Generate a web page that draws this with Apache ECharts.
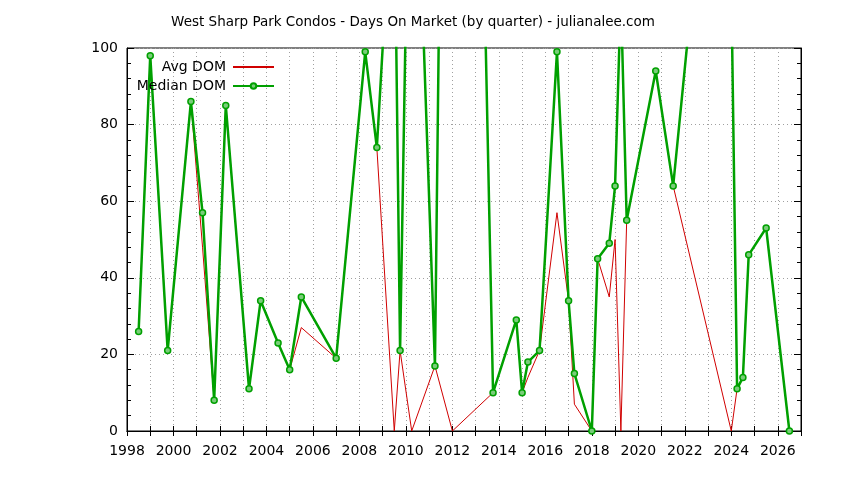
<html lang="en">
<head>
    <meta charset="UTF-8">
    <title>West Sharp Park Condos - DOM</title>
    <style>
        html, body { margin: 0; padding: 0; background: #fff; }
    </style>
</head>
<body>
    <div id="container" style="width:844px;height:480px"></div>

    <script src="https://cdn.jsdelivr.net/npm/echarts@6/dist/echarts.min.js"></script>
    <script>
        // quarters (decimal year) and days on market
        var medianQuarters = [1998.5, 1999.0, 1999.75, 2000.75, 2001.25, 2001.75, 2002.25, 2003.25, 2003.75, 2004.5,
            2005.0, 2005.5, 2007.0, 2008.25, 2008.75, 2009.25, 2009.5, 2009.75, 2010.0, 2010.5,
            2011.25, 2011.5, 2013.25, 2013.75, 2014.75, 2015.0, 2015.25, 2015.75, 2016.5, 2017.0,
            2017.25, 2018.0, 2018.25, 2018.75, 2019.0, 2019.25, 2019.5, 2020.75, 2021.5, 2022.25,
            2024.0, 2024.25, 2024.5, 2024.75, 2025.5, 2026.5];
        var medianDom = [26, 98, 21, 86, 57, 8, 85, 11, 34, 23,
            16, 35, 19, 99, 74, 126, 142, 21, 110, 148,
            17, 148, 154, 10, 29, 10, 18, 21, 99, 34,
            15, 0, 45, 49, 64, 114, 55, 94, 64, 110,
            117, 11, 14, 46, 53, 0];

        var avgQuarters = [1998.5, 1999.0, 1999.75, 2000.75, 2001.25, 2001.75, 2002.25, 2003.25, 2003.75, 2004.5,
            2005.0, 2005.5, 2007.0, 2008.25, 2008.75, 2009.5, 2009.75, 2010.25, 2011.25, 2012.0,
            2013.75, 2014.75, 2015.0, 2015.25, 2015.75, 2016.5, 2017.0, 2017.25, 2018.0, 2018.25,
            2018.75, 2019.0, 2019.25, 2019.5, 2020.75, 2021.5, 2024.0, 2024.25, 2024.5, 2024.75,
            2025.5, 2026.5];
        var avgDom = [26, 98, 21, 86, 48, 8, 85, 11, 34, 23,
            16, 27, 19, 99, 74, 0, 21, 0, 17, 0,
            10, 29, 10, 14, 21, 57, 34, 7, 0, 45,
            35, 50, 0, 55, 94, 64, 0, 11, 14, 46,
            53, 0];

        var yTicks = [0, 20, 40, 60, 80, 100];

        function pairs(xs, ys) {
            return xs.map(function (x, i) { return [x, ys[i]]; });
        }

        var font = 'DejaVu Sans';
        var myChart = echarts.init(document.getElementById('container'));

        function xAxisDef(pos, labels) {
            return {
                type: 'value', position: pos, min: 1998, max: 2027, interval: 1,
                axisLine: { show: true, lineStyle: { color: '#000', width: 1 } },
                axisTick: { show: true, inside: true, length: 5, lineStyle: { color: '#000' } },
                axisLabel: {
                    show: labels, color: '#000', fontFamily: font, fontSize: 14, margin: 13,
                    formatter: function (v) { return v % 2 === 0 ? String(v) : ''; }
                },
                splitLine: { show: labels, lineStyle: { color: '#a0a0a0', type: [1, 3], width: 1 } }
            };
        }
        function yAxisDef(pos, labels) {
            return {
                type: 'value', position: pos, min: yTicks[0], max: yTicks[yTicks.length - 1], interval: 20,
                axisLine: { show: true, lineStyle: { color: '#000', width: 1 } },
                axisTick: { show: true, inside: true, length: 7, lineStyle: { color: '#000' } },
                minorTick: { show: true, splitNumber: 5, length: 4, lineStyle: { color: '#000' } },
                axisLabel: { show: labels, color: '#000', fontFamily: font, fontSize: 14, margin: 9 },
                splitLine: { show: labels, lineStyle: { color: '#a0a0a0', type: [1, 3], width: 1 } }
            };
        }

        var legendText = { fontFamily: font, fontSize: 14, color: '#000', padding: [0, 2, 0, 0] };

        var option = {
            backgroundColor: '#fff',
            animation: false,
            title: {
                text: 'West Sharp Park Condos - Days On Market (by quarter) - julianalee.com',
                left: 408, top: 10, textAlign: 'center',
                textStyle: { fontFamily: font, fontSize: 13.5, fontWeight: 'normal', color: '#000' }
            },
            legend: [{
                // plain line sample, no marker
                data: [{ name: 'Avg DOM', itemStyle: { opacity: 0 } }],
                right: 564, top: 55, align: 'right',
                itemWidth: 41, itemHeight: 12, itemGap: 10, selectedMode: false,
                textStyle: legendText
            }, {
                data: ['Median DOM'], right: 564, top: 74, align: 'right',
                itemWidth: 41, itemHeight: 7, itemGap: 10, selectedMode: false,
                textStyle: legendText
            }],
            grid: {
                left: 127, right: 43, top: 48, bottom: 49,
                show: true, borderColor: '#000', borderWidth: 1, backgroundColor: 'transparent'
            },
            xAxis: [xAxisDef('bottom', true), xAxisDef('top', false)],
            yAxis: [yAxisDef('left', true), yAxisDef('right', false)],
            series: [{
                name: 'Avg DOM',
                type: 'line',
                data: pairs(avgQuarters, avgDom),
                symbol: 'none',
                lineStyle: { color: '#d00000', width: 1 },
                itemStyle: { color: '#d00000' },
                z: 2
            }, {
                name: 'Median DOM',
                type: 'line',
                data: pairs(medianQuarters, medianDom),
                symbol: 'circle',
                symbolSize: 6,
                showSymbol: true,
                lineStyle: { color: '#00a000', width: 2.5 },
                itemStyle: { color: '#7acc7a', borderColor: '#00a000', borderWidth: 1.5 },
                z: 3
            }]
        };
        myChart.setOption(option);
    </script>
</body>
</html>
